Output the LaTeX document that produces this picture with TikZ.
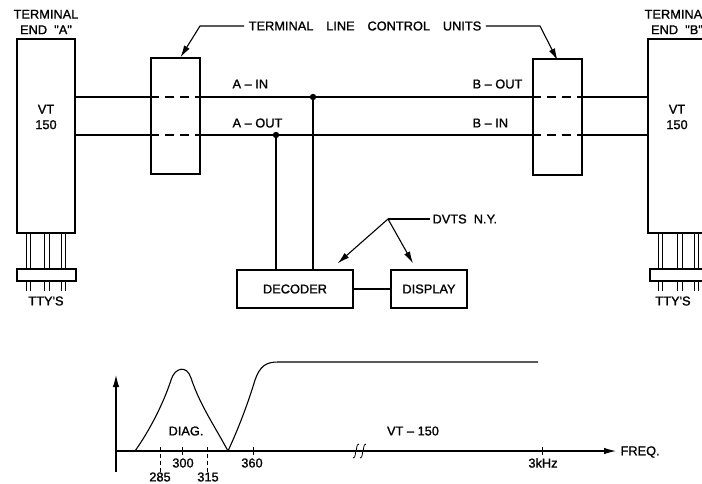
\documentclass[tikz,border=0pt]{standalone}
\usepackage{fontspec}
\setmainfont{Liberation Sans}
\newfontfamily\stencil{Liberation Sans}[FakeBold=1.2,Ligatures=TeX]
\usetikzlibrary{arrows.meta}

\begin{document}
\begin{tikzpicture}[x=1pt,y=-1pt,line width=1.1pt,
		box/.style={draw, line width=1.3pt, inner sep=0pt},
		lbl/.style={font=\fontsize{12.8}{15.5}\stencil, inner sep=0pt},
		inside/.style={dash pattern=on 9pt off 6pt},
		tip/.style={-{Latex[length=12pt,width=6.5pt]}}]
		\useasboundingbox (0,0) rectangle (702,483);
		% terminals
		\node[box, minimum width=58, minimum height=194] (vtA) at (46,136) {};
		\node[box, minimum width=58, minimum height=194] (vtB) at (677,136) {};
		\node[lbl, align=center] (endA) at (46,22) {TERMINAL\\END \ \textquotedbl A\textquotedbl};
		\node[lbl, align=center] (endB) at (677,22) {TERMINAL\\END \ \textquotedbl B\textquotedbl};
		\node[lbl, align=center] (vtAtxt) at (46,117) {VT\\150};
		\node[lbl, align=center] (vtBtxt) at (677,117) {VT\\150};
		\foreach \dx in {10,14,28,33,45,49}
			\draw (vtA.south west) ++(\dx,0) -- ++(0,57);
		\foreach \dx in {11,15,30,35,47,51}
			\draw (vtB.south west) ++(\dx,0) -- ++(0,57);
		\node[box, fill=white, minimum width=59, minimum height=12] (ttyA) at (46.5,275) {};
		\node[box, fill=white, minimum width=60, minimum height=12] (ttyB) at (680,275) {};
		\node[lbl] (ttyAtxt) at (46,301) {TTY\textquotesingle S};
		\node[lbl] (ttyBtxt) at (673,301) {TTY\textquotesingle S};
		% line control units
		\node[box, minimum width=49, minimum height=116] (tlcuA) at (175.5,116) {};
		\node[box, minimum width=49, minimum height=116] (tlcuB) at (557.5,117) {};
		\coordinate (ain) at (0,97);
		\coordinate (aout) at (0,135);
		\foreach \lv in {ain,aout} {
			\draw (vtA.east |- \lv) -- (tlcuA.west |- \lv);
			\draw[inside] (tlcuA.west |- \lv) -- (tlcuA.east |- \lv);
			\draw (tlcuA.east |- \lv) -- (tlcuB.west |- \lv);
			\draw[inside] (tlcuB.west |- \lv) -- (tlcuB.east |- \lv);
			\draw (tlcuB.east |- \lv) -- (vtB.west |- \lv);
		}
		\node[lbl, anchor=west] (ainTxt) at (232,84) {A -- IN};
		\node[lbl, anchor=west] (aoutTxt) at (232,123) {A -- OUT};
		\node[lbl, anchor=west] (boutTxt) at (472,84) {B -- OUT};
		\node[lbl, anchor=west] (binTxt) at (472,123) {B -- IN};
		\node[lbl] (tlcu) at (365,26) {TERMINAL\quad LINE\quad CONTROL\quad UNITS};
		\draw[tip] (tlcu.west) ++(-4,0) -- (200,26) -- ([xshift=5pt]tlcuA.north);
		\draw[tip] (tlcu.east) ++(4,0) -- (540,26) -- ([yshift=-2pt]tlcuB.north);
		% decoder and display
		\node[box, minimum width=116, minimum height=38] (decoder) at (295,289) {};
		\node[lbl] (decTxt) at (295,289) {DECODER};
		\node[box, minimum width=76, minimum height=38] (display) at (429,289) {};
		\node[lbl] (dispTxt) at (429,289) {DISPLAY};
		\draw (decoder) -- (display);
		\coordinate (jin) at (313,97);
		\coordinate (jout) at (276,135);
		\draw (jin) -- (jin |- decoder.north);
		\draw (jout) -- (jout |- decoder.north);
		\fill (jin) circle (3.2);
		\fill (jout) circle (3.2);
		\node[lbl, anchor=west] (dvts) at (432,219) {DVTS \ N.Y.};
		\coordinate (dvfork) at (388,219);
		\draw (dvts.west) ++(-2,0) -- (dvfork);
		\draw[tip] (dvfork) -- ([xshift=-16pt,yshift=6pt]decoder.north east);
		\draw[tip] (dvfork) -- ([xshift=-16pt,yshift=6pt]display.north);
		% frequency plot
		\coordinate (org) at (116,451);
		\draw[tip] (116,472) -- (116,375);
		\draw[tip] (116,451) -- (616,451);
		\node[lbl, anchor=west] (freq) at (620,452) {FREQ.};
		\draw (135,451) .. controls (150,430) and (164,402) .. (171,380)
			.. controls (175,367) and (187,365) .. (191,378)
			.. controls (200,405) and (214,425) .. (228,451);
		\draw (228,451) .. controls (240,425) and (249,400) .. (255,380)
			.. controls (260,366) and (266,362) .. (278,362) -- (538,362);
		\foreach \fx in {182,253,542}
			\draw[line width=0.8pt] (\fx,447) -- (\fx,455);
		\foreach \fx in {160,207}
			\draw[line width=0.8pt, dash pattern=on 4pt off 3pt] (\fx,447) -- (\fx,473);
		\foreach \fx in {355,362}
			\draw[line width=0.8pt, fill=white] (\fx-2,458) .. controls (\fx+1,458) and (\fx,452) .. (\fx+1,451)
				.. controls (\fx+2,450) and (\fx+1,444) .. (\fx+4,444);
		\node[lbl] (f285) at (160,477) {285};
		\node[lbl] (f300) at (183,463) {300};
		\node[lbl] (f315) at (208,477) {315};
		\node[lbl] (f360) at (252,463) {360};
		\node[lbl] (f3k) at (543,463) {3kHz};
		\node[lbl] (diag) at (186,431) {DIAG.};
		\node[lbl] (vt150) at (413,431) {VT -- 150};
	\end{tikzpicture}
\end{document}
